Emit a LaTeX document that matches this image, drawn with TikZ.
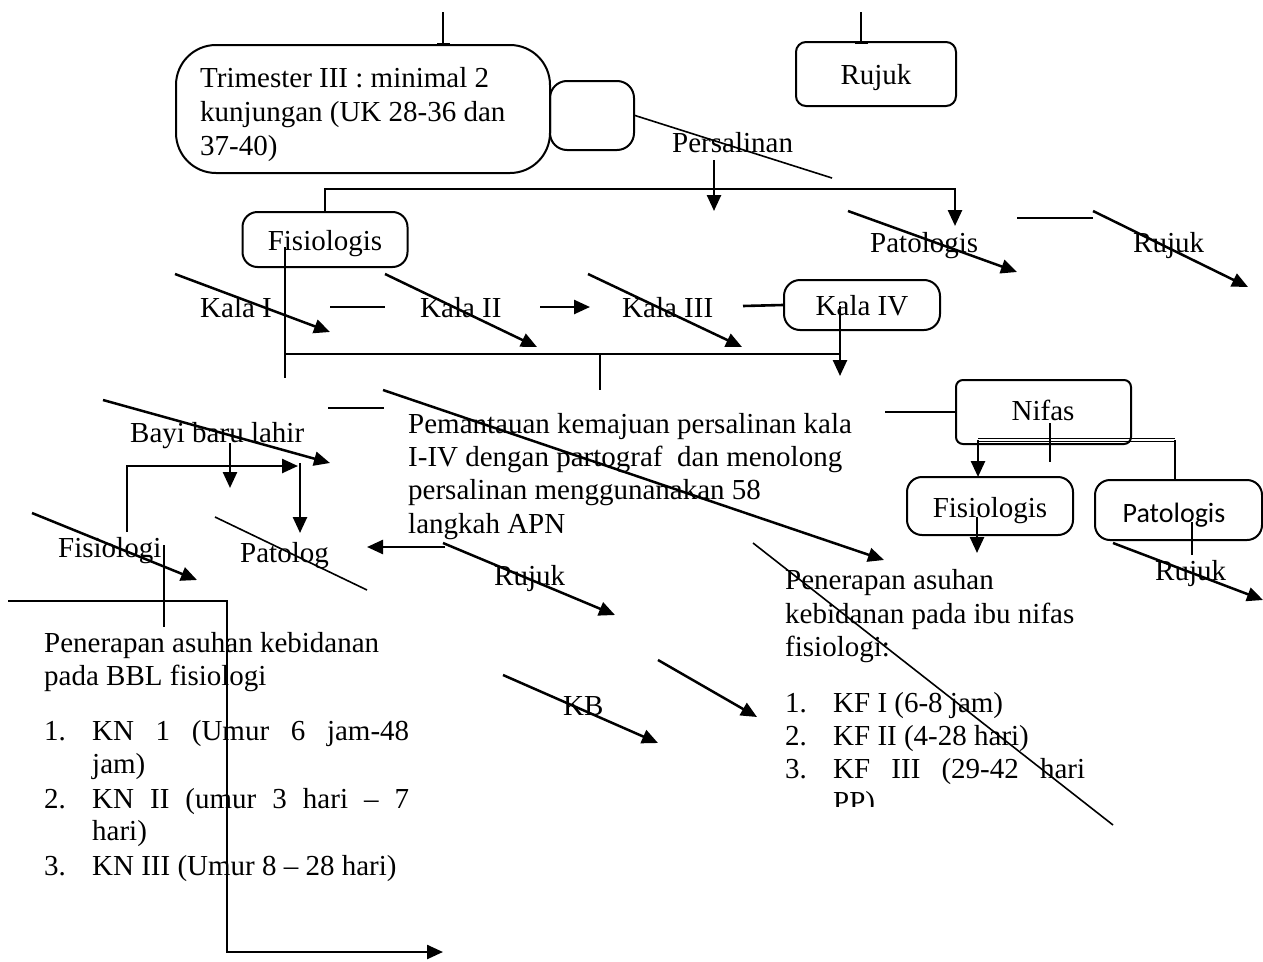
\documentclass[tikz,border=0pt]{standalone}
\usepackage{fontspec}
\setmainfont{Liberation Serif}
\newfontfamily\calibfont{Carlito}
\usetikzlibrary{arrows.meta}
\newcommand\bigtxt{\fontsize{29}{34}\selectfont}
\begin{document}
\begin{tikzpicture}[x=1pt,y=-1pt,
  ln/.style={line width=2.6pt},
  th/.style={line width=1.6pt},
  arr/.style={line width=2.5pt,-{Triangle[length=16pt,width=14pt]}},
  rbox/.style={draw,line width=2pt,inner sep=0pt},
  lbl/.style={font=\bigtxt,inner sep=0pt,anchor=base west},
  clbl/.style={font=\bigtxt,inner sep=0pt,anchor=base},
]
\useasboundingbox (0,0) rectangle (1263,961);

% ---------- boxes ----------
\node[rbox,rounded corners=40pt,minimum width=374pt,minimum height=128pt] (tri) at (363,109) {};
\node[rbox,rounded corners=17pt,minimum width=84pt,minimum height=69pt] (small) at (592,115.5) {};
\node[rbox,rounded corners=10pt,minimum width=160pt,minimum height=64pt] (rujTop) at (876,74) {};
\node[rbox,rounded corners=15pt,minimum width=165pt,minimum height=55pt] (fisL) at (325,239.5) {};
\node[rbox,rounded corners=16pt,minimum width=156pt,minimum height=50pt] (kala4) at (862,305) {};
\node[rbox,rounded corners=7pt,minimum width=175pt,minimum height=64pt] (nifas) at (1043.5,412) {};
\node[rbox,rounded corners=15pt,minimum width=166pt,minimum height=58pt] (fisR) at (990,506) {};
\node[rbox,rounded corners=15pt,minimum width=167pt,minimum height=60pt] (patR) at (1178.5,510) {};

% ---------- box labels ----------
\node[clbl] (rujTopT) at (876,84) {Rujuk};
\node[clbl] (fisLT) at (325,250) {Fisiologis};
\node[clbl] (kala4T) at (862,315) {Kala IV};
\node[clbl] (nifasT) at (1043,420) {Nifas};
\node[clbl] (fisRT) at (990,517) {Fisiologis};
\node[clbl,font=\calibfont\fontsize{28}{34}\selectfont] (patRT) at (1174,522) {Patologis};

% ---------- texts ----------
\node[lbl] (tr1) at (200,87) {Trimester III : minimal 2};
\node[lbl] (tr2) at (200,121) {kunjungan (UK 28-36 dan};
\node[lbl] (tr3) at (200,155) {37-40)};
\node[lbl] (pers) at (672,152) {Persalinan};
\node[lbl] (patol) at (870,252) {Patologis};
\node[lbl] (ruj2) at (1133,252) {Rujuk};
\node[lbl] (kala1) at (200,317) {Kala I};
\node[lbl] (kala2) at (420,317) {Kala II};
\node[lbl] (kala3) at (622,317) {Kala III};
\node[lbl] (bayi) at (130,442) {Bayi baru lahir};
\node[lbl] (pem1) at (408,433) {Pemantauan kemajuan persalinan kala};
\node[lbl] (pem2) at (408,466) {I-IV dengan partograf\ \ dan menolong};
\node[lbl] (pem3) at (408,499) {persalinan menggunanakan 58};
\node[lbl] (pem4) at (408,533) {langkah APN};
\node[lbl] (fisio) at (58,557) {Fisiologi};
\node[lbl] (patolog) at (240,562) {Patolog};
\node[lbl] (ruj3) at (494,585) {Rujuk};
\node[lbl] (kb) at (563,715) {KB};
\node[lbl] (ruj4) at (1155,580) {Rujuk};

\node[lbl] (pa1) at (785,589) {Penerapan asuhan};
\node[lbl] (pa2) at (785,623) {kebidanan pada ibu nifas};
\node[lbl] (pa3) at (785,656) {fisiologi:};
\node[lbl] (kfn1) at (785,712) {1.};
\node[lbl] (kft1) at (833,712) {KF I (6-8 jam)};
\node[lbl] (kfn2) at (785,745) {2.};
\node[lbl] (kft2) at (833,745) {KF II (4-28 hari)};
\node[lbl] (kfn3) at (785,778) {3.};
\node[lbl] (kft3) at (833,778) {\makebox[252pt][s]{KF III (29-42 hari}};
\begin{scope}
  \clip (780,780) rectangle (1000,806);
  \node[lbl] (kft4) at (833,811) {PP)};
\end{scope}

\node[lbl] (pb1) at (44,652) {Penerapan asuhan kebidanan};
\node[lbl] (pb2) at (44,685) {pada BBL fisiologi};
\node[lbl] (knn1) at (44,740) {1.};
\node[lbl] (knt1) at (92,740) {\makebox[317pt][s]{KN 1 (Umur 6 jam-48}};
\node[lbl] (knt1b) at (92,773) {jam)};
\node[lbl] (knn2) at (44,808) {2.};
\node[lbl] (knt2) at (92,808) {\makebox[317pt][s]{KN II (umur 3 hari -- 7}};
\node[lbl] (knt2b) at (92,840) {hari)};
\node[lbl] (knn3) at (44,875) {3.};
\node[lbl] (knt3) at (92,875) {KN III (Umur 8 -- 28 hari)};

% ---------- coordinates ----------
\coordinate (t1) at (443,12);
\coordinate (t2) at (861,12);
\coordinate (pd) at (832,178);
\coordinate (pa) at (714,160);
\coordinate (pb) at (714,211);
\coordinate (h1) at (955,189);
\coordinate (h2) at (955,226);

% ---------- connectors ----------
\draw[line width=2pt] (t1) -- (t1 |- tri.north);
\draw[line width=2pt] (437,44) -- (450,44);
\draw[line width=2pt] (t2) -- (t2 |- rujTop.north);
\draw[line width=2pt] (855,43) -- (868,43);

\draw[th] (small.east) -- (pd);
\draw[arr] (pa) -- (pb);
\draw[ln,-{Triangle[length=16pt,width=14pt]}] (fisL.north) -- (fisL.north |- h1) -- (h1) -- (h2);

\draw[arr] (848,211) -- (1017,272);
\draw[ln,line width=2.2pt] (1017,218) -- (1093,218);
\draw[arr] (1093,211) -- (1248,287);

\draw[th] (285,247) -- (285,378);
\draw[arr] (175,274) -- (330,332);
\draw[arr] (385,274) -- (537,347);
\draw[arr] (588,274) -- (742,347);
\draw[th] (330,307) -- (385,307);
\draw[arr] (540,307) -- (590,307);
\draw[ln] (743,306) -- (kala4.west);
\draw[ln] (285,354) -- (840,354);
\draw[arr] (840,306) -- (840,376);
\draw[th] (600,354) -- (600,390);

\draw[arr] (383,390) -- (884,560);
\draw[th] (328,408) -- (384,408);
\draw[th] (885,412) -- (nifas.west);

\draw[arr] (103,400) -- (330,463);
\draw[arr] (230,443) -- (230,488);
\draw[arr] (127,532) -- (127,466) -- (298,466);
\draw[arr] (300,463) -- (300,533);
\draw[arr] (32,513) -- (197,580);
\draw[th] (215,517) -- (367,590);
\draw[arr] (445,547) -- (367,547);
\draw[arr] (443,543) -- (615,615);
\draw[th] (164,545) -- (164,627);
\draw[ln,line width=2.4pt,-{Triangle[length=16pt,width=14pt]}] (8,601) -- (227,601) -- (227,952) -- (443,952);

\draw[arr] (503,675) -- (658,743);
\draw[arr] (658,660) -- (757,717);
\draw[th] (753,543) -- (1113,825);

% nifas branch
\draw[th] (978,438.5) -- (1175,438.5);
\draw[th] (978,441.5) -- (1175,441.5);
\draw[th] (1175,440) -- (1175,480);
\draw[th] (1050,423) -- (1050,462);
\draw[arr] (978,440) -- (978,477);
\draw[arr] (977,517) -- (977,553);
\draw[th] (1192,522) -- (1192,555);
\draw[arr] (1113,543) -- (1263,600);
\end{tikzpicture}
\end{document}
